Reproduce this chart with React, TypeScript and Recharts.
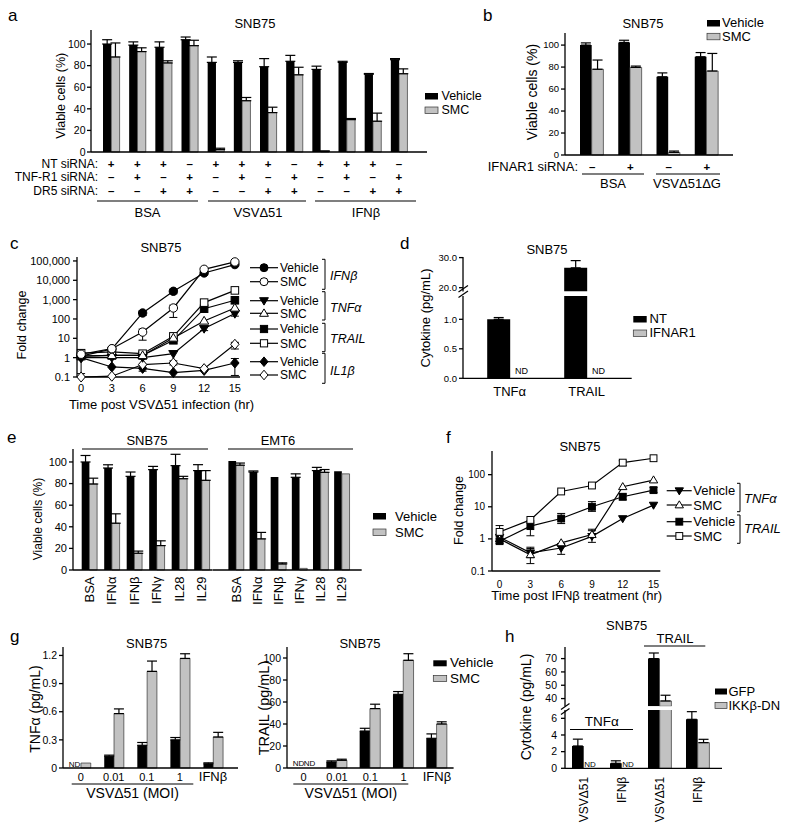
import React from "react";
import { BarChart, Bar, LineChart, Line, XAxis, YAxis, ErrorBar } from "recharts";

const FONT = "'Liberation Sans', Arial, Helvetica, sans-serif";
const INK = "#000";
const GREY = "#c2c2c2";
const AX = { stroke: INK, strokeWidth: 1.3 };
const PAD = 6;
const HOURS = [0, 3, 6, 9, 12, 15];

// a: viability, siRNA knockdown
const aVeh = [100, 99, 97, 104, 83, 83, 79, 84, 76.5, 83, 72, 85.5];
const aVehErr = [4, 3, 5, 2.5, 5, 1.5, 7.5, 5.5, 3, 1, 0.7, 1];
const aSmc = [88, 93, 82.5, 98.5, 2.2, 47.5, 36.5, 71.5, 0.6, 30, 28.5, 72.5];
const aSmcErr = [13, 3.5, 2, 5, 1.3, 3, 5, 7, 0.4, 1, 7.5, 4.5];
const aNT = ["+", "+", "+", "–", "+", "+", "+", "–", "+", "+", "+", "–"];
const aTNFR1 = ["–", "+", "–", "+", "–", "+", "–", "+", "–", "+", "–", "+"];
const aDR5 = ["–", "–", "+", "+", "–", "–", "+", "+", "–", "–", "+", "+"];
const aLanes = aVeh.map((_, i) => `lane${i + 1}`);

// b: IFNAR1 knockdown
const bVeh = [100, 102.4, 71.2, 89.4];
const bVehErr = [2, 2, 3.5, 3.8];
const bSmc = [78, 79.7, 2.4, 76.4];
const bSmcErr = [8.4, 1.2, 1.2, 16];
const bIfnar = ["–", "+", "–", "+"];
const bLanes = ["b1", "b2", "b3", "b4"];

// c: qPCR time course after VSVΔ51
const cIfnbV = [1.2, 2.8, 204, 2700, 24000, 65000];
const cIfnbS = [1.5, 2.9, 21, 370, 37000, 89000];
const cTnfV = [1.0, 1.0, 1.0, 1.6, 32, 190];
const cTnfS = [1.2, 1.3, 1.3, 10.4, 79, 370];
const cTrailV = [1.2, 1.3, 1.3, 7.9, 340, 925];
const cTrailS = [1.7, 2.0, 1.6, 12.6, 700, 3000];
const cIl1bV = [1.0, 0.33, 0.28, 0.17, 0.22, 0.53];
const cIl1bS = [0.1, 0.11, 0.44, 0.53, 0.27, 4.9];
const cIfnbVErr = [null, null, [150, 260], [2000, 3400], [19000, 30000], null];
const cIfnbSErr = [null, null, [8, 30], [120, 520], null, null];
const cTnfVErr = [null, null, null, null, [25, 40], [140, 240]];
const cNoErr = [null, null, null, null, null, null];
const cIl1bVErr = [[0.15, 1.6], null, [0.2, 0.42], null, null, [0.12, 0.9]];
const cIl1bSErr = [null, null, null, [0.42, 0.68], null, [2.8, 6.2]];

// d: secreted cytokines, broken axis (0 = not detected)
const dCats = ["TNFα", "TRAIL"];
const dNT = [1.0, 26.6];
const dNTErr = [0.03, 2.4];
const dIfnar = [0, 0];
const dIfnarErr = [0, 0];

// e: viability with cytokines
const eCats = ["BSA", "IFNα", "IFNβ", "IFNγ", "IL28", "IL29"];
const eSnbVeh = [100, 94.4, 86.7, 92.9, 96.6, 92];
const eSnbVehErr = [6, 3, 4, 3, 10.5, 5.5];
const eSnbSmc = [79.6, 43.3, 15.5, 22.6, 84.5, 83];
const eSnbSmcErr = [5.4, 8.7, 2, 4.4, 2.2, 9];
const eEmtVeh = [101, 90.7, 86, 85.8, 92, 91.3];
const eEmtVehErr = [0, 1, 0, 3.2, 3, 0];
const eEmtSmc = [97, 28.8, 5.6, 1.5, 90.4, 89];
const eEmtSmcErr = [2, 6, 1, 0, 2.6, 0];

// f: qPCR after IFNβ
const fTnfV = [1.13, 0.37, 0.52, 1.2, 4.3, 11.3];
const fTnfS = [1.0, 0.32, 0.75, 1.36, 42, 68];
const fTrailV = [0.85, 2.5, 4.3, 10, 20.5, 33];
const fTrailS = [1.65, 3.9, 30, 46, 237, 325];
const fTnfVErr = [null, [0.26, 0.55], [0.33, 0.72], [0.78, 1.8], null, null];
const fTnfSErr = [null, [0.17, 0.5], null, [1.1, 2.0], null, null];
const fTrailVErr = [[0.72, 1.0], [1.25, 3.6], [3.0, 6.2], [7.2, 14.5], [16.5, 25], [28, 40]];
const fTrailSErr = [[1.2, 2.6], null, null, null, [190, 270], null];

// g: ELISA vs MOI (0 = not detected)
const gDose = ["0", "0.01", "0.1", "1", "IFNβ"];
const gTnfVeh = [0, 0.125, 0.242, 0.3, 0.045];
const gTnfVehErr = [0, 0.012, 0.03, 0.025, 0.01];
const gTnfSmc = [0.053, 0.58, 1.03, 1.168, 0.33];
const gTnfSmcErr = [0, 0.05, 0.11, 0.05, 0.05];
const gTrailVeh = [0, 5.5, 33.6, 67, 27];
const gTrailVehErr = [0, 1, 2.5, 2.5, 4];
const gTrailSmc = [0, 7, 54, 97.9, 40];
const gTrailSmcErr = [0, 1, 4, 6, 2];

// h: IKKβ-DN, broken axis (0 = not detected)
const hCats = ["VSVΔ51", "IFNβ", "VSVΔ51", "IFNβ"];
const hGfp = [2.68, 0.6, 70, 5.88];
const hGfpErr = [0.82, 0.3, 4.2, 0.92];
const hIkk = [0, 0, 38.2, 3.08];
const hIkkErr = [0, 0, 4.3, 0.4];

function table(names: string[], cols: Record<string, [number[], number[]]>, dom?: [number, number]) {
  return names.map((name, i) => {
    const row: Record<string, unknown> = { name };
    Object.keys(cols).forEach((k) => {
      const [vals, errs] = cols[k];
      const v = vals[i];
      const e = errs[i];
      const below = dom ? v < dom[0] : false;
      row[k] = below ? null : v;
      const visible = !dom || (v >= dom[0] && v <= dom[1]);
      row[k + "E"] = e > 0 && visible ? [0, e] : undefined;
    });
    return row;
  });
}

function timeTable(cols: Record<string, [number[], any[]]>) {
  return HOURS.map((t, i) => {
    const row: Record<string, unknown> = { t };
    Object.keys(cols).forEach((k) => {
      const [vals, errs] = cols[k];
      const v = vals[i];
      const e = errs[i];
      row[k] = v;
      row[k + "E"] = e ? [v - e[0], e[1] - v] : undefined;
    });
    return row;
  });
}

const aData = table(aLanes, { veh: [aVeh, aVehErr], smc: [aSmc, aSmcErr] });
const bData = table(bLanes, { veh: [bVeh, bVehErr], smc: [bSmc, bSmcErr] });
const D_UP: [number, number] = [18.77, 30.2];
const D_LO: [number, number] = [0, 1.395];
const dUp = table(dCats, { nt: [dNT, dNTErr], ifnar: [dIfnar, dIfnarErr] }, D_UP);
const dLo = table(dCats, { nt: [dNT, dNTErr], ifnar: [dIfnar, dIfnarErr] }, D_LO);
const eSnb = table(eCats, { veh: [eSnbVeh, eSnbVehErr], smc: [eSnbSmc, eSnbSmcErr] });
const eEmt = table(eCats, { veh: [eEmtVeh, eEmtVehErr], smc: [eEmtSmc, eEmtSmcErr] });
const gTnf = table(gDose, { veh: [gTnfVeh, gTnfVehErr], smc: [gTnfSmc, gTnfSmcErr] });
const gTrail = table(gDose, { veh: [gTrailVeh, gTrailVehErr], smc: [gTrailSmc, gTrailSmcErr] });
const H_UP: [number, number] = [34.2, 78.7];
const H_LO: [number, number] = [0, 7];
const hUp = table(hCats, { gfp: [hGfp, hGfpErr], ikk: [hIkk, hIkkErr] }, H_UP);
const hLo = table(hCats, { gfp: [hGfp, hGfpErr], ikk: [hIkk, hIkkErr] }, H_LO);

const cData = timeTable({
  ifnbV: [cIfnbV, cIfnbVErr], ifnbS: [cIfnbS, cIfnbSErr],
  tnfV: [cTnfV, cTnfVErr], tnfS: [cTnfS, cNoErr],
  trailV: [cTrailV, cNoErr], trailS: [cTrailS, cNoErr],
  il1bV: [cIl1bV, cIl1bVErr], il1bS: [cIl1bS, cIl1bSErr],
});
const fData = timeTable({
  tnfV: [fTnfV, fTnfVErr], tnfS: [fTnfS, fTnfSErr],
  trailV: [fTrailV, fTrailVErr], trailS: [fTrailS, fTrailSErr],
});

function Marker({ kind, cx, cy, r = 4 }: any) {
  if (cx == null || cy == null) return null;
  const style = { fill: kind[0] === "f" ? INK : "#fff", stroke: INK, strokeWidth: 1 };
  switch (kind[1]) {
    case "c":
      return <circle cx={cx} cy={cy} r={r} {...style} />;
    case "s":
      return <rect x={cx - r * 0.9} y={cy - r * 0.9} width={r * 1.8} height={r * 1.8} {...style} />;
    case "d":
      return <polygon points={`${cx - r * 1.1},${cy - r * 0.75} ${cx + r * 1.1},${cy - r * 0.75} ${cx},${cy + r * 1.1}`} {...style} />;
    case "u":
      return <polygon points={`${cx - r * 1.1},${cy + r * 0.75} ${cx + r * 1.1},${cy + r * 0.75} ${cx},${cy - r * 1.1}`} {...style} />;
    default:
      return <polygon points={`${cx},${cy - r * 1.2} ${cx + r},${cy} ${cx},${cy + r * 1.2} ${cx - r},${cy}`} {...style} />;
  }
}

function signTick(rows: string[][], offs: number[]) {
  return (props: any) => {
    const { x, y, payload } = props;
    const i = props.index ?? payload.index ?? 0;
    return (
      <g>
        {rows.map((r, k) => (
          <text key={k} x={x} y={y + offs[k]} textAnchor="middle" fontSize={11.5} fontWeight={700} fontFamily={FONT} fill={INK}>
            {r[i]}
          </text>
        ))}
      </g>
    );
  };
}

function rotTick(gap: number, fs: number) {
  return (props: any) => {
    const { x, payload } = props;
    const y = props.y + gap;
    return (
      <text x={x} y={y} transform={`rotate(-90 ${x} ${y})`} textAnchor="end" dy="0.36em" fontSize={fs} fontFamily={FONT} fill={INK}>
        {payload.value}
      </text>
    );
  };
}

const doseTick = (props: any) => {
  const { x, y, payload } = props;
  const word = isNaN(Number(payload.value));
  return (
    <text x={x} y={y} dy={7.7} textAnchor="middle" fontSize={word ? 13 : 11} fontFamily={FONT} fill={INK}>
      {payload.value}
    </text>
  );
};

function BarPanel(p: any) {
  const yw = p.hideY ? 0 : p.yw;
  const xh = p.hideX ? 0 : p.xh;
  const width = p.x1 - p.x0 + yw + 2 * PAD;
  const height = p.y1 - p.y0 + xh + 2 * PAD;
  const yTick = { fontSize: p.tf, fill: INK, fontFamily: FONT };
  const xTick = p.xTick ?? { fontSize: p.xtf ?? p.tf, fill: INK, fontFamily: FONT };
  return (
    <div style={{ position: "absolute", left: p.x0 - yw - PAD, top: p.y0 - PAD }}>
      <BarChart width={width} height={height} data={p.data} barGap={0} margin={{ top: PAD, right: PAD, bottom: PAD, left: PAD }}>
        <XAxis dataKey="name" hide={p.hideX} height={p.xh} padding={{ left: p.pad[0], right: p.pad[1] }} axisLine={AX} tickLine={false} tickSize={0} tickMargin={p.tm ?? 0} interval={0} tick={xTick} />
        <YAxis hide={p.hideY} width={p.yw} type="number" domain={p.domain} allowDataOverflow={!!p.clip} ticks={p.ticks} interval={0} tickFormatter={p.fmt} tick={yTick} tickSize={4} tickMargin={p.ym ?? 2} axisLine={AX} tickLine={AX} />
        {p.series.map((s: any) => (
          <Bar key={s.key} dataKey={s.key} fill={s.fill} stroke={s.fill === INK ? "none" : "#333"} strokeWidth={0.7} barSize={p.bar} isAnimationActive={false}>
            <ErrorBar dataKey={s.key + "E"} width={p.cap ?? 5} stroke={INK} strokeWidth={1.2} direction="y" />
          </Bar>
        ))}
      </BarChart>
    </div>
  );
}

function LogPanel(p: any) {
  const width = p.x1 - p.x0 + p.yw + 2 * PAD;
  const height = p.y1 - p.y0 + p.xh + 2 * PAD;
  const tick = { fontSize: p.tf, fill: INK, fontFamily: FONT };
  return (
    <div style={{ position: "absolute", left: p.x0 - p.yw - PAD, top: p.y0 - PAD }}>
      <LineChart width={width} height={height} data={p.data} margin={{ top: PAD, right: PAD, bottom: PAD, left: PAD }}>
        <XAxis type="number" dataKey="t" domain={p.xdom} ticks={HOURS} interval={0} tickLine={false} tickSize={4} tickMargin={p.tm} axisLine={AX} height={p.xh} tick={tick} />
        <YAxis type="number" scale="log" domain={p.ydom} ticks={p.yticks} interval={0} tickFormatter={(v: number) => v.toLocaleString("en-US")} width={p.yw} tick={tick} tickSize={4} tickMargin={3} axisLine={AX} tickLine={AX} />
        {p.series.map((s: any) => (
          <Line key={s.key} dataKey={s.key} type="linear" stroke={INK} strokeWidth={1.2} isAnimationActive={false} activeDot={false}
            dot={(d: any) => <Marker key={`${s.key}-${d.index}`} kind={s.kind} cx={d.cx} cy={d.cy} r={p.r} />}>
            <ErrorBar dataKey={s.key + "E"} width={4} stroke={INK} strokeWidth={1} direction="y" />
          </Line>
        ))}
      </LineChart>
    </div>
  );
}

function T(p: any) {
  const { x, y, s = 13, a = "start", it, b, rot, children } = p;
  return (
    <text x={x} y={y} fontSize={s} textAnchor={a} fontStyle={it ? "italic" : "normal"} fontWeight={b ? 700 : 400} fontFamily={FONT} fill={INK}
      transform={rot ? `rotate(-90 ${x} ${y})` : undefined} dy={rot ? "0.35em" : undefined}>
      {children}
    </text>
  );
}
const Ln = ({ x1, y1, x2, y2, w = 1.2 }: any) => <line x1={x1} y1={y1} x2={x2} y2={y2} stroke={INK} strokeWidth={w} />;
const Sw = ({ x, y, w = 13, h = 6.5, grey }: any) => (
  <rect x={x} y={y} width={w} height={h} fill={grey ? GREY : INK} stroke={grey ? "#333" : "none"} strokeWidth={0.7} />
);
const Brk = ({ x, y1, y2 }: any) => <path d={`M${x - 3},${y1} H${x} V${y2} H${x - 3}`} fill="none" stroke={INK} strokeWidth={1} />;

const cLegend = [
  ["fc", "Vehicle", 267.7], ["oc", "SMC", 281.7], ["fd", "Vehicle", 300.7], ["ou", "SMC", 313.3],
  ["fs", "Vehicle", 329], ["os", "SMC", 343.3], ["fm", "Vehicle", 361.7], ["om", "SMC", 375],
];
const fLegend = [["fd", "Vehicle", 490.7], ["ou", "SMC", 505], ["fs", "Vehicle", 521.7], ["os", "SMC", 536]];

function Overlay() {
  return (
    <svg width={789} height={830} style={{ position: "absolute", left: 0, top: 0, pointerEvents: "none" }}>
      {/* panel letters */}
      <T x={8} y={21} s={17}>a</T>
      <T x={483} y={21} s={17}>b</T>
      <T x={10} y={249} s={17}>c</T>
      <T x={400} y={249} s={17}>d</T>
      <T x={7} y={443} s={17}>e</T>
      <T x={446} y={443} s={17}>f</T>
      <T x={10} y={642} s={17}>g</T>
      <T x={505} y={642} s={17}>h</T>

      {/* a */}
      <T x={255} y={28} a="middle">SNB75</T>
      <T x={61} y={95.7} a="middle" s={12.5} rot>Viable cells (%)</T>
      <T x={98} y={167.5} a="end" s={12}>NT siRNA:</T>
      <T x={98} y={181} a="end" s={12}>TNF-R1 siRNA:</T>
      <T x={98} y={195} a="end" s={12}>DR5 siRNA:</T>
      <Ln x1={97} y1={201} x2={198} y2={201} />
      <Ln x1={208} y1={201} x2={306} y2={201} />
      <Ln x1={315} y1={201} x2={416} y2={201} />
      <T x={147.5} y={217} a="middle">BSA</T>
      <T x={258} y={217} a="middle">VSVΔ51</T>
      <T x={366} y={217} a="middle">IFNβ</T>
      <Sw x={425} y={93} />
      <T x={441.5} y={99.5} s={12.5}>Vehicle</T>
      <Sw x={425} y={107} grey />
      <T x={441.5} y={113.5} s={12.5}>SMC</T>

      {/* b */}
      <T x={643} y={28} a="middle">SNB75</T>
      <T x={532.5} y={92} a="middle" s={14} rot>Viable cells (%)</T>
      <T x={578} y={171} a="end">IFNAR1 siRNA:</T>
      <Ln x1={582} y1={174} x2={644} y2={174} />
      <Ln x1={656} y1={174} x2={720} y2={174} />
      <T x={613} y={188.3} a="middle">BSA</T>
      <T x={687} y={188.3} a="middle">VSVΔ51ΔG</T>
      <Sw x={707} y={20} />
      <T x={722} y={27}>Vehicle</T>
      <Sw x={707} y={33.3} grey />
      <T x={722} y={40.7}>SMC</T>

      {/* c */}
      <T x={161} y={251.7} a="middle">SNB75</T>
      <T x={21.7} y={325} a="middle" s={12.5} rot>Fold change</T>
      <T x={161.5} y={409} a="middle">Time post VSVΔ51 infection (hr)</T>
      {cLegend.map(([k, lab, y]: any) => (
        <g key={`c${y}`}>
          <Ln x1={250} y1={y} x2={278} y2={y} />
          <Marker kind={k} cx={264} cy={y} r={4} />
          <T x={280} y={y + 4.3} s={12}>{lab}</T>
        </g>
      ))}
      <Brk x={325} y1={259.3} y2={289.3} />
      <Brk x={325} y1={291.7} y2={320} />
      <Brk x={325} y1={323.3} y2={351.7} />
      <Brk x={325} y1={353.3} y2={383.3} />
      <T x={330} y={280} it s={12.5}>IFNβ</T>
      <T x={330} y={311.7} it s={12.5}>TNFα</T>
      <T x={330} y={343.3} it s={12.5}>TRAIL</T>
      <T x={330} y={375} it s={12.5}>IL1β</T>

      {/* d */}
      <T x={547} y={254} a="middle">SNB75</T>
      <T x={425} y={318} a="middle" rot>Cytokine (pg/mL)</T>
      <Ln x1={458.5} y1={292} x2={468} y2={285.5} w={1.2} />
      <Ln x1={458.5} y1={297.5} x2={468} y2={291} w={1.2} />
      <T x={521.5} y={374} a="middle" s={9}>ND</T>
      <T x={598.5} y={374} a="middle" s={9}>ND</T>
      <Sw x={633.3} y={316} w={13.4} />
      <T x={649.5} y={323.3}>NT</T>
      <Sw x={633.3} y={330} w={13.4} grey />
      <T x={649.5} y={337.3}>IFNAR1</T>

      {/* e */}
      <T x={147} y={445} a="middle">SNB75</T>
      <T x={278} y={445} a="middle">EMT6</T>
      <Ln x1={82} y1={449} x2={208} y2={449} />
      <Ln x1={228} y1={449} x2={353} y2={449} />
      <T x={37.5} y={519} a="middle" s={12} rot>Viable cells (%)</T>
      <Sw x={373} y={513} />
      <T x={395} y={520.5}>Vehicle</T>
      <Sw x={373} y={529} grey />
      <T x={395} y={536.5}>SMC</T>

      {/* f */}
      <T x={580} y={450.5} a="middle">SNB75</T>
      <T x={459} y={510.5} a="middle" s={12.5} rot>Fold change</T>
      <T x={576.7} y={600} a="middle">Time post IFNβ treatment (hr)</T>
      {fLegend.map(([k, lab, y]: any) => (
        <g key={`f${y}`}>
          <Ln x1={666.7} y1={y} x2={691.7} y2={y} />
          <Marker kind={k} cx={679.3} cy={y} r={3.8} />
          <T x={693.3} y={y + 4.5}>{lab}</T>
        </g>
      ))}
      <Brk x={740} y1={483.3} y2={511.7} />
      <Brk x={740} y1={515} y2={543.3} />
      <T x={744} y={502.7} it>TNFα</T>
      <T x={744} y={533.3} it>TRAIL</T>

      {/* g */}
      <T x={146.7} y={648.3} a="middle">SNB75</T>
      <T x={360} y={648.3} a="middle">SNB75</T>
      <T x={35} y={709} a="middle" s={14} rot>TNFα (pg/mL)</T>
      <T x={264} y={708} a="middle" s={14.5} rot>TRAIL (pg/mL)</T>
      <T x={74.5} y={766.5} a="middle" s={8}>ND</T>
      <T x={298.5} y={766} a="middle" s={8}>ND</T>
      <T x={309.5} y={766} a="middle" s={8}>ND</T>
      <Ln x1={71.7} y1={784} x2={193.3} y2={784} />
      <Ln x1={293.3} y1={784} x2={408.3} y2={784} />
      <T x={132.5} y={798.3} a="middle" s={14}>VSVΔ51 (MOI)</T>
      <T x={350.8} y={798.3} a="middle" s={14}>VSVΔ51 (MOI)</T>
      <Sw x={433.3} y={660.3} w={13.4} h={6} />
      <T x={450} y={667} s={13.5}>Vehicle</T>
      <Sw x={433.3} y={675.5} w={13.4} h={6} grey />
      <T x={450} y={682.5} s={13.5}>SMC</T>

      {/* h */}
      <T x={626.7} y={630} a="middle">SNB75</T>
      <T x={675} y={643} a="middle">TRAIL</T>
      <Ln x1={644} y1={646} x2={705.3} y2={646} />
      <T x={601.7} y={726} a="middle" s={13.5}>TNFα</T>
      <Ln x1={570} y1={729.5} x2={633} y2={729.5} />
      <T x={526} y={707} a="middle" s={14} rot>Cytokine (pg/mL)</T>
      <Ln x1={561} y1={709.5} x2={569.5} y2={703.5} w={1.2} />
      <Ln x1={561} y1={714.5} x2={569.5} y2={708.5} w={1.2} />
      <T x={590} y={766.5} a="middle" s={8}>ND</T>
      <T x={628} y={766.5} a="middle" s={8}>ND</T>
      <Sw x={715} y={688.5} w={12} h={6} />
      <T x={728.5} y={695.5} s={13}>GFP</T>
      <Sw x={715} y={702.5} w={12} h={6} grey />
      <T x={728.5} y={709.5} s={13}>IKKβ-DN</T>
    </svg>
  );
}

const VB = [{ key: "veh", fill: INK }, { key: "smc", fill: GREY }];
const PCT = [0, 20, 40, 60, 80, 100];

export default function App() {
  return (
    <div style={{ position: "absolute", left: 0, top: 0, width: 789, height: 830, background: "#fff", fontFamily: FONT }}>
      <BarPanel x0={91} y0={30} x1={427} y1={152} yw={40} xh={50} data={aData} domain={[0, 113]} ticks={PCT} tf={10.5} ym={1.5}
        pad={[7, 15]} bar={8.3} series={VB} xTick={signTick([aNT, aTNFR1, aDR5], [15.5, 29, 43])} />
      <BarPanel x0={565} y0={33} x1={733} y1={155} yw={40} xh={24} data={bData} domain={[0, 111]} ticks={PCT} tf={9.5}
        pad={[8, 7]} bar={11.7} series={VB} xTick={signTick([bIfnar], [16])} />

      <LogPanel x0={77} y0={256.7} x1={240} y1={376.7} yw={55} xh={22} data={cData} tf={11} tm={3.5} r={4.2}
        xdom={[-0.4, 15.5]} ydom={[0.1, 160000]} yticks={[0.1, 1, 10, 100, 1000, 10000, 100000]}
        series={[
          { key: "il1bV", kind: "fm" }, { key: "il1bS", kind: "om" },
          { key: "trailV", kind: "fs" }, { key: "trailS", kind: "os" },
          { key: "tnfV", kind: "fd" }, { key: "tnfS", kind: "ou" },
          { key: "ifnbV", kind: "fc" }, { key: "ifnbS", kind: "oc" },
        ]} />

      <BarPanel x0={463.3} y0={257.3} x1={632} y1={291.7} yw={35} hideX clip data={dUp} domain={D_UP} ticks={[20, 30]}
        fmt={(v: number) => v.toFixed(1)} tf={9.5} pad={[8.2, 6.5]} bar={23}
        series={[{ key: "nt", fill: INK }, { key: "ifnar", fill: GREY }]} />
      <BarPanel x0={463.3} y0={295.7} x1={632} y1={378} yw={35} xh={30} clip data={dLo} domain={D_LO} ticks={[0, 0.5, 1]}
        fmt={(v: number) => v.toFixed(1)} tf={9.5} xtf={13} tm={8} pad={[8.2, 6.5]} bar={23}
        series={[{ key: "nt", fill: INK }, { key: "ifnar", fill: GREY }]} />

      <BarPanel x0={73.3} y0={449} x1={213} y1={570} yw={35} xh={45} data={eSnb} domain={[0, 112]} ticks={PCT} tf={11}
        pad={[4.7, 0]} bar={7.7} series={VB} xTick={rotTick(6.5, 13)} />
      <BarPanel x0={213} y0={449} x1={361.7} y1={570} yw={0} hideY xh={45} data={eEmt} domain={[0, 112]} tf={11}
        pad={[12.4, 9.4]} bar={7.7} series={VB} xTick={rotTick(6.5, 13)} />

      <LogPanel x0={491.7} y0={450.7} x1={660} y1={570.7} yw={35} xh={25} data={fData} tf={10} tm={5.5} r={3.8}
        xdom={[-0.74, 15.66]} ydom={[0.1, 546]} yticks={[0.1, 1, 10, 100]}
        series={[
          { key: "tnfV", kind: "fd" }, { key: "tnfS", kind: "ou" },
          { key: "trailV", kind: "fs" }, { key: "trailS", kind: "os" },
        ]} />

      <BarPanel x0={63.3} y0={647.3} x1={238.3} y1={768.3} yw={35} xh={20} data={gTnf} domain={[0, 1.29]} ticks={[0, 0.3, 0.6, 0.9, 1.2]}
        fmt={(v: number) => String(v)} tf={10.5} tm={5} pad={[1.15, 8.45]} bar={9.8} xTick={doseTick} series={VB} />
      <BarPanel x0={286.7} y0={647.3} x1={453.3} y1={768.3} yw={35} xh={20} data={gTrail} domain={[0, 110]} ticks={PCT}
        tf={10.5} tm={5} pad={[0, 0]} bar={10.3} xTick={doseTick} series={VB} />

      <BarPanel x0={565} y0={646.7} x1={722} y1={706} yw={32} hideX clip data={hUp} domain={H_UP} ticks={[40, 50, 60, 70]}
        tf={10.5} ym={4} pad={[0, 5]} bar={11.7} series={[{ key: "gfp", fill: INK }, { key: "ikk", fill: GREY }]} />
      <BarPanel x0={565} y0={710} x1={722} y1={768.3} yw={32} xh={60} clip data={hLo} domain={H_LO} ticks={[0, 2, 4, 6]}
        tf={10.5} ym={4} pad={[0, 5]} bar={11.7} xTick={rotTick(8.5, 12)}
        series={[{ key: "gfp", fill: INK }, { key: "ikk", fill: GREY }]} />

      <Overlay />
    </div>
  );
}
